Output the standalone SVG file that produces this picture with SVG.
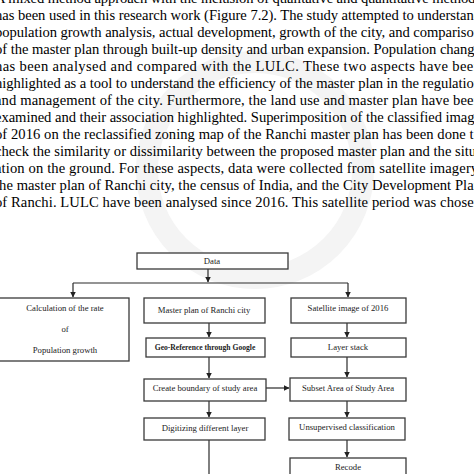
<svg xmlns="http://www.w3.org/2000/svg" width="474" height="474" viewBox="0 0 474 474">
<defs>
<marker id="ah" markerWidth="6" markerHeight="6" refX="5.5" refY="3" orient="auto" markerUnits="userSpaceOnUse">
<path d="M0,0 L6,3 L0,6 Z" fill="#222"/>
</marker>
<style>
.p{font-family:"Liberation Serif","Times New Roman",serif;font-size:14.6px;fill:#000}
.b{fill:#fff;stroke:#3a3a3a;stroke-width:1.3}
.t{font-family:"Liberation Serif","Times New Roman",serif;font-size:8.7px;fill:#222;text-anchor:middle}
.bold{font-weight:bold;font-size:7.6px}
.c{fill:none;stroke:#2a2a2a;stroke-width:1.2}
</style>
</defs>
<rect width="474" height="474" fill="#fff"/>
<g id="watermark" fill="none" stroke="#f4f4f4" stroke-width="22">
<circle cx="255" cy="170" r="108"/>
</g>
<g id="paragraph">
<text class="p" x="-5" y="3" textLength="486" lengthAdjust="spacing">A mixed method approach with the inclusion of qualitative and quantitative methods</text>
<text class="p" x="-5" y="20" textLength="486" lengthAdjust="spacing">has been used in this research work (Figure 7.2). The study attempted to understand</text>
<text class="p" x="-5" y="37" textLength="486" lengthAdjust="spacing">population growth analysis, actual development, growth of the city, and comparison</text>
<text class="p" x="-5" y="54" textLength="486" lengthAdjust="spacing">of the master plan through built-up density and urban expansion. Population change</text>
<text class="p" x="-5" y="71" textLength="486" lengthAdjust="spacing">has been analysed and compared with the LULC. These two aspects have been</text>
<text class="p" x="-5" y="88" textLength="486" lengthAdjust="spacing">highlighted as a tool to understand the efficiency of the master plan in the regulation</text>
<text class="p" x="-5" y="105" textLength="486" lengthAdjust="spacing">and management of the city. Furthermore, the land use and master plan have been</text>
<text class="p" x="-5" y="122" textLength="486" lengthAdjust="spacing">examined and their association highlighted. Superimposition of the classified image</text>
<text class="p" x="-5" y="139" textLength="486" lengthAdjust="spacing">of 2016 on the reclassified zoning map of the Ranchi master plan has been done to</text>
<text class="p" x="-5" y="156" textLength="486" lengthAdjust="spacing">check the similarity or dissimilarity between the proposed master plan and the situ-</text>
<text class="p" x="-5" y="173" textLength="486" lengthAdjust="spacing">ation on the ground. For these aspects, data were collected from satellite imagery,</text>
<text class="p" x="-5" y="190" textLength="486" lengthAdjust="spacing">the master plan of Ranchi city, the census of India, and the City Development Plan</text>
<text class="p" x="-5" y="207" textLength="486" lengthAdjust="spacing">of Ranchi. LULC have been analysed since 2016. This satellite period was chosen</text>
</g>
<g id="connectors">
<path class="c" d="M208,269 V282" marker-end="url(#ah)"/>
<path class="c" d="M73,283 H348"/>
<path class="c" d="M73,283 V297" marker-end="url(#ah)"/>
<path class="c" d="M348,283 V297" marker-end="url(#ah)"/>
<path class="c" d="M209,323 V337" marker-end="url(#ah)"/>
<path class="c" d="M209,357 V378" marker-end="url(#ah)"/>
<path class="c" d="M209,401 V417" marker-end="url(#ah)"/>
<path class="c" d="M209,440 V476"/>
<path class="c" d="M347,323 V337" marker-end="url(#ah)"/>
<path class="c" d="M347,357 V377" marker-end="url(#ah)"/>
<path class="c" d="M347,401 V417" marker-end="url(#ah)"/>
<path class="c" d="M347,440 V457" marker-end="url(#ah)"/>
<path class="c" d="M266,388 H289" marker-end="url(#ah)"/>
</g>
<g id="data"><rect class="b" x="137" y="253" width="151" height="16"/><text class="t" x="212" y="264">Data</text></g>
<g id="popgrowth"><rect class="b" x="-2" y="298" width="131" height="63"/>
<text class="t" x="65" y="311">Calculation of the rate</text>
<text class="t" x="65" y="332">of</text>
<text class="t" x="65" y="353">Population growth</text></g>
<g id="masterplan"><rect class="b" x="144" y="298" width="121" height="25"/><text class="t" x="204" y="313">Master plan of Ranchi city</text></g>
<g id="georef"><rect class="b" x="146" y="338" width="119" height="19"/><text class="t bold" x="205" y="350">Geo-Reference through Google</text></g>
<g id="boundary"><rect class="b" x="144" y="379" width="122" height="22"/><text class="t" x="205" y="391">Create boundary of study area</text></g>
<g id="digitizing"><rect class="b" x="144" y="418" width="121" height="22"/><text class="t" x="205" y="431">Digitizing different layer</text></g>
<g id="satellite"><rect class="b" x="291" y="298" width="115" height="25"/><text class="t" x="348" y="311">Satellite image of 2016</text></g>
<g id="layerstack"><rect class="b" x="291" y="338" width="115" height="19"/><text class="t" x="348" y="350">Layer stack</text></g>
<g id="subset"><rect class="b" x="290" y="378" width="116" height="23"/><text class="t" x="348" y="391">Subset Area of Study Area</text></g>
<g id="unsupervised"><rect class="b" x="289" y="418" width="116" height="22"/><text class="t" x="347" y="430">Unsupervised classification</text></g>
<g id="recode"><rect class="b" x="290" y="458" width="116" height="22"/><text class="t" x="348" y="470">Recode</text></g>
</svg>
